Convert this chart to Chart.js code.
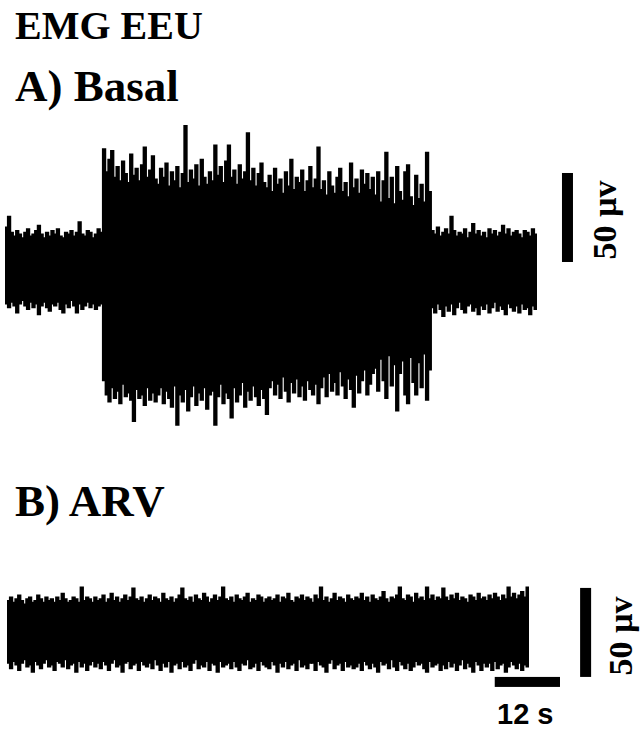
<!DOCTYPE html>
<html>
<head>
<meta charset="utf-8">
<script src="https://cdn.jsdelivr.net/npm/chart.js"></script>
<style>
	body { margin: 0; background: #fff; width: 640px; height: 734px; position: relative; overflow: hidden; }
	canvas { position: absolute; left: 0; }
	.lbl { position: absolute; font-family: 'Liberation Serif', 'Times New Roman', serif; font-weight: bold; line-height: 1; white-space: nowrap; color: #000; }
	.rot { transform: translate(-50%, -50%) rotate(-90deg); font-size: 34px; }
	.sans { font-family: 'Liberation Sans', Arial, sans-serif; }
</style>
</head>
<body>
<div class="lbl" style="left:15px; top:5.5px; font-size:40px;">EMG EEU</div>
<div class="lbl" style="left:15px; top:64px; font-size:45px;">A) Basal</div>
<div class="lbl" style="left:15px; top:479px; font-size:45px;">B) ARV</div>
<div class="lbl rot" style="left:605px; top:220px;">50 µv</div>
<div class="lbl rot" style="left:621px; top:636px;">50 µv</div>
<div class="lbl sans" style="left:497px; top:700px; font-size:29px;">12 s</div>

<canvas id="chartBasal" width="640" height="330" style="top:110px"></canvas>
<canvas id="chartArv" width="640" height="130" style="top:570px"></canvas>

<script>
// seconds per bin, envelopes in µV (max / min of each bin)
var binSec = 0.5;

var basalTop = [
	24,30,21,19,22,20,18,21,23,19, 20,22,25,20,18,21,19,22,20,23, 19,18,21,20,22,19,21,27,20,19, 22,21,18,20,23,21,
	68,55,62,67,52,58,50,61,54,49, 65,53,57,50,59,69,52,56,64,51,
	48,57,52,60,47,55,50,58,46,54, 81,49,56,51,59,47,62,52,48,55,
	50,70,53,58,49,61,70,52,56,48, 59,51,55,77,50,57,47,54,60,49,
	46,53,44,57,48,51,43,55,47,62, 45,52,49,56,44,50,58,46,51,69,
	45,50,42,55,47,43,52,57,44,49, 41,60,46,51,43,56,48,54,45,52,
	42,55,38,50,66,40,52,37,58,44, 39,55,59,41,36,53,40,48,38,66,44,
	22,20,24,19,21,23,20,30,22,19, 21,20,23,18,21,26,20,22,19,21, 18,23,20,22,19,21,25,20,23,19, 21,22,20,18,22,21,19,23,20
];

var basalBottom = [
	-19,-21,-18,-20,-24,-19,-17,-20,-22,-18, -21,-19,-25,-20,-18,-21,-23,-19,-20,-18, -22,-24,-19,-21,-17,-20,-24,-19,-22,-20, -18,-21,-19,-22,-20,-19,
	-62,-70,-74,-66,-72,-68,-75,-64,-71,-69, -73,-85,-67,-72,-70,-76,-66,-73,-69,-74,
	-70,-66,-75,-68,-72,-77,-65,-87,-70,-74, -67,-79,-71,-65,-76,-69,-73,-66,-78,-70,
	-68,-87,-71,-64,-75,-69,-72,-83,-66,-74, -70,-63,-77,-68,-73,-65,-71,-76,-67,-72,
	-81,-66,-62,-70,-64,-72,-60,-68,-74,-63, -69,-61,-71,-65,-73,-62,-67,-70,-64,-75,
	-66,-60,-71,-58,-68,-63,-70,-57,-65,-72, -61,-67,-77,-59,-69,-62,-56,-70,-64,-58,
	-55,-68,-50,-62,-72,-48,-65,-53,-79,-58, -51,-70,-75,-49,-63,-70,-52,-66,-47,-73,-56,
	-21,-24,-19,-22,-26,-20,-23,-19,-25,-21, -18,-22,-24,-20,-19,-23,-21,-25,-20,-22, -19,-24,-21,-18,-23,-20,-22,-25,-19,-21, -23,-20,-24,-19,-22,-21,-25,-20,-22
];

var arvTop = [
	17,19,16,18,20,17,15,18,19,16,17,20,18,16,19,17,
	18,16,19,17,21,18,16,17,19,18,16,25,17,19,18,16,
	19,17,18,20,16,18,21,17,19,16,18,20,17,19,24,18,
	17,19,16,18,20,17,19,18,16,21,18,17,19,16,18,20,
	24,18,17,19,16,20,18,17,21,19,16,18,20,17,19,26,
	18,17,19,16,20,18,17,19,21,16,18,17,20,19,16,18,
	19,17,18,20,16,19,18,21,17,16,19,18,20,17,19,18,
	16,20,18,25,17,19,16,18,21,17,19,18,16,20,18,17,
	19,18,21,17,19,16,20,18,17,19,22,18,16,19,18,20,
	26,18,17,20,19,16,21,18,19,17,25,18,20,17,19,18,
	24,19,17,20,18,21,17,19,18,16,20,19,17,21,18,19,
	17,20,18,21,19,17,20,18,26,19,21,18,20,22,19,25
];

var arvBottom = [
	-18,-21,-17,-19,-22,-18,-16,-20,-19,-23,-17,-19,-21,-18,-16,-20,
	-19,-22,-17,-18,-20,-16,-21,-19,-18,-23,-17,-20,-18,-22,-19,-17,
	-20,-18,-21,-17,-19,-22,-18,-16,-20,-19,-23,-18,-17,-21,-19,-18,
	-22,-17,-19,-20,-18,-21,-16,-19,-22,-18,-20,-17,-23,-19,-18,-21,
	-17,-20,-19,-22,-18,-16,-21,-19,-20,-17,-22,-18,-19,-23,-17,-20,
	-19,-18,-21,-17,-20,-22,-18,-19,-16,-21,-20,-18,-22,-17,-19,-20,
	-21,-17,-19,-23,-18,-20,-17,-21,-19,-18,-22,-16,-20,-19,-21,-18,
	-18,-22,-17,-19,-20,-23,-18,-16,-21,-19,-18,-22,-17,-20,-19,-21,
	-20,-18,-22,-17,-19,-21,-18,-20,-23,-17,-19,-18,-21,-16,-20,-22,
	-17,-19,-21,-18,-22,-20,-17,-19,-18,-21,-23,-17,-20,-19,-18,-22,
	-19,-21,-17,-20,-18,-22,-19,-16,-21,-18,-20,-23,-17,-19,-22,-18,
	-20,-18,-22,-17,-21,-19,-18,-23,-20,-17,-19,-21,-18,-22,-19,-20
];

var scaleBars = {
	id: 'scaleBars',
	afterDatasetsDraw(chart, args, opts) {
		let { ctx, scales: { x, y } } = chart;
		ctx.save();
		ctx.fillStyle = '#000';
		(opts.bars || []).forEach(b => {
			if (b.dir === 'v') {
				let x0 = x.getPixelForValue(b.at);
				let top = y.getPixelForValue(b.from + b.len);
				let bottom = y.getPixelForValue(b.from);
				ctx.fillRect(x0, top, b.thick, bottom - top);
			} else {
				let left = x.getPixelForValue(b.from);
				let right = x.getPixelForValue(b.from + b.len);
				ctx.fillRect(left, y.getPixelForValue(b.at), right - left, b.thick);
			}
		});
		ctx.restore();
	}
};

function toBars(top, bottom) {
	return top.map((t, i) => ({ x: (i + 0.5) * binSec, y: [bottom[i], t] }));
}

function traceChart(id, top, bottom, yMin, yMax, padding, bars) {
	let ctx = $(id).getContext('2d');
	return new Chart(ctx, {
		type: 'bar',
		data: {
			datasets: [{
				data: toBars(top, bottom),
				backgroundColor: '#000',
				borderWidth: 0,
				inflateAmount: 0.8,
				barPercentage: 1,
				categoryPercentage: 1
			}]
		},
		options: {
			responsive: false,
			animation: false,
			devicePixelRatio: 1,
			layout: { padding: padding },
			plugins: {
				legend: { display: false },
				tooltip: { enabled: false },
				scaleBars: { bars: bars }
			},
			scales: {
				x: { type: 'linear', display: false, min: 0, max: top.length * binSec, offset: false },
				y: { display: false, min: yMin, max: yMax }
			}
		},
		plugins: [scaleBars]
	});
}

function $(sel) {
	return document.querySelector(sel);
}

traceChart('#chartBasal', basalTop, basalBottom, -90, 85,
	{ left: 5, right: 103, top: 8.7, bottom: 9.8 },
	[{ dir: 'v', at: 102.6, from: 4.5, len: 50, thick: 11 }]);

traceChart('#chartArv', arvTop, arvBottom, -25, 25,
	{ left: 7, right: 111, top: 16.5, bottom: 24.5 },
	[
		{ dir: 'v', at: 105.4, from: -25.8, len: 50, thick: 11 },
		{ dir: 'h', at: -25.8, from: 89.7, len: 12, thick: 10 }
	]);
</script>
</body>
</html>
